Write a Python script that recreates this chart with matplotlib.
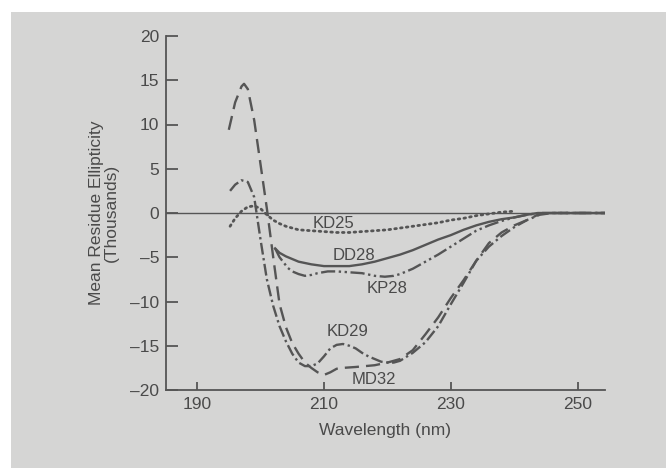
import numpy as np
import matplotlib
matplotlib.use("Agg")
import matplotlib.pyplot as plt
from matplotlib.patches import Rectangle

# wavelength (nm) / mean residue ellipticity (thousands)
kd25_x = [195.2, 196, 197, 198, 199, 200, 201, 202, 203, 204, 205, 206, 208, 210, 212, 214,
          216, 218, 220, 222, 224, 226, 228, 230, 232, 234, 236, 238, 240]
kd25_y = [-1.5, -0.6, 0.2, 0.7, 0.8, 0.5, -0.2, -0.8, -1.2, -1.5, -1.7, -1.9, -2.0, -2.1, -2.2, -2.2,
          -2.1, -2.0, -1.9, -1.7, -1.5, -1.3, -1.1, -0.8, -0.6, -0.3, -0.1, 0.1, 0.2]

dd28_x = [202.3, 203, 204, 205, 206, 208, 210, 212, 214, 216, 218, 220, 222, 224, 226, 228,
          230, 232, 234, 236, 238, 240, 242, 243.7, 254.3]
dd28_y = [-4.0, -4.5, -4.9, -5.2, -5.5, -5.8, -6.0, -6.0, -6.0, -5.8, -5.5, -5.1, -4.7, -4.2, -3.6, -3.0,
          -2.5, -1.9, -1.4, -1.0, -0.7, -0.5, -0.2, 0.0, 0.0]

kp28_x = [202.3, 203, 204.3, 205, 206, 207, 208, 209, 210.6, 212, 214, 216, 218, 219.6, 221, 222,
          224, 226, 228, 230, 232, 234, 236, 238, 240, 242, 244, 254.3]
kp28_y = [-4.0, -5.0, -6.2, -6.6, -6.9, -7.1, -7.0, -6.8, -6.6, -6.6, -6.7, -6.8, -7.1, -7.2, -7.1, -6.9,
          -6.3, -5.5, -4.7, -3.8, -2.9, -2.0, -1.4, -0.9, -0.5, -0.2, 0.0, 0.0]

kd29_x = [195.2, 196, 197, 198, 199, 200, 201, 202, 203, 204, 205, 206, 207, 208, 209, 210, 211,
          212, 213, 214, 215, 216, 217, 218, 219, 220, 221, 222, 224, 226, 228, 230, 232, 234,
          236, 238, 240, 242, 244, 246, 254.3]
kd29_y = [2.5, 3.2, 3.7, 3.5, 1.8, -3.0, -7.5, -10.5, -12.8, -14.5, -15.9, -16.9, -17.3, -17.3, -17.0,
          -16.2, -15.3, -14.9, -14.8, -15.0, -15.3, -15.8, -16.2, -16.5, -16.8, -16.9, -16.9, -16.7,
          -15.8, -14.6, -12.8, -10.3, -7.9, -5.4, -3.8, -2.6, -1.6, -0.8, -0.2, 0.0, 0.0]

md32_x = [195, 196, 197, 197.4, 198, 199, 200, 201, 202, 203, 204, 205, 206, 207, 208, 209, 210,
          211, 212, 213, 215, 218, 220, 222, 224, 226, 228, 230, 232, 234, 236, 238, 240, 242,
          244, 246, 254.3]
md32_y = [9.4, 12.5, 14.3, 14.6, 14.0, 10.5, 5.5, 0.5, -5.0, -10.3, -12.9, -14.7, -15.9, -16.9, -17.5,
          -18.0, -18.3, -18.0, -17.6, -17.5, -17.4, -17.2, -16.9, -16.5, -15.5, -13.7, -11.8, -9.6,
          -7.6, -5.4, -3.4, -2.2, -1.4, -0.8, -0.1, 0.0, 0.0]

xticks = [190, 210, 230, 250]
yticks = [-20, -15, -10, -5, 0, 5, 10, 15, 20]

ink = "#555555"
txt = "#4a4a4a"
plt.rcParams["font.family"] = ["Liberation Sans", "DejaVu Sans"]

fig = plt.figure(figsize=(6.66, 4.68), dpi=100, facecolor="white")
bg = Rectangle((11 / 666, 0), 1, 1 - 12 / 468, transform=fig.transFigure,
               facecolor="#d5d5d4", edgecolor="none", zorder=-10)
fig.add_artist(bg)
ax = fig.add_axes([166 / 666, 1 - 390 / 468, (605 - 166) / 666, (390 - 36) / 468])
ax.set_facecolor("none")
ax.set_zorder(5)

ax.axhline(0, color=ink, lw=1.0)
ax.plot(kd25_x, kd25_y, color=ink, lw=2.0, linestyle=(0, (0.6, 1.5)), dash_capstyle="round")
ax.plot(dd28_x, dd28_y, color=ink, lw=1.7)
ax.plot(kp28_x, kp28_y, color=ink, lw=1.7, linestyle=(0, (6, 1.5, 1, 1.5, 1, 1.5)))
ax.plot(kd29_x, kd29_y, color=ink, lw=1.7, linestyle=(0, (5, 1.5, 1, 1.5)))
ax.plot(md32_x, md32_y, color=ink, lw=1.7, linestyle=(0, (6, 3)))

lab = dict(color=txt, fontsize=12, ha="center", va="center")
ax.text(211.5, -1.2, "KD25", **lab)
ax.text(214.8, -4.8, "DD28", **lab)
ax.text(219.9, -8.5, "KP28", **lab)
ax.text(213.7, -13.4, "KD29", **lab)
ax.text(217.8, -18.8, "MD32", **lab)

ax.set_xlim(185.1, 254.3)
ax.set_ylim(-20, 20)
ax.set_xticks(xticks)
ax.set_yticks(yticks)
ax.set_yticklabels([str(v).replace("-", "\u2013") for v in yticks])
for s in ["top", "right"]:
    ax.spines[s].set_visible(False)
for s in ["left", "bottom"]:
    ax.spines[s].set_color(ink)
    ax.spines[s].set_linewidth(1.3)
ax.tick_params(axis="y", direction="in", length=8.5, width=1.3, color=ink,
               labelcolor=txt, labelsize=12.5, pad=5)
ax.tick_params(axis="x", direction="in", length=5.5, width=1.3, color=ink,
               labelcolor=txt, labelsize=12.5, pad=5)

ax.set_xlabel("Wavelength (nm)", color=txt, fontsize=12.5, labelpad=8)
ax.set_ylabel("Mean Residue Ellipticity\n(Thousands)", color=txt, fontsize=12.5,
              labelpad=8, linespacing=1.0)

fig.savefig("out.png", dpi=100, facecolor=fig.get_facecolor())
